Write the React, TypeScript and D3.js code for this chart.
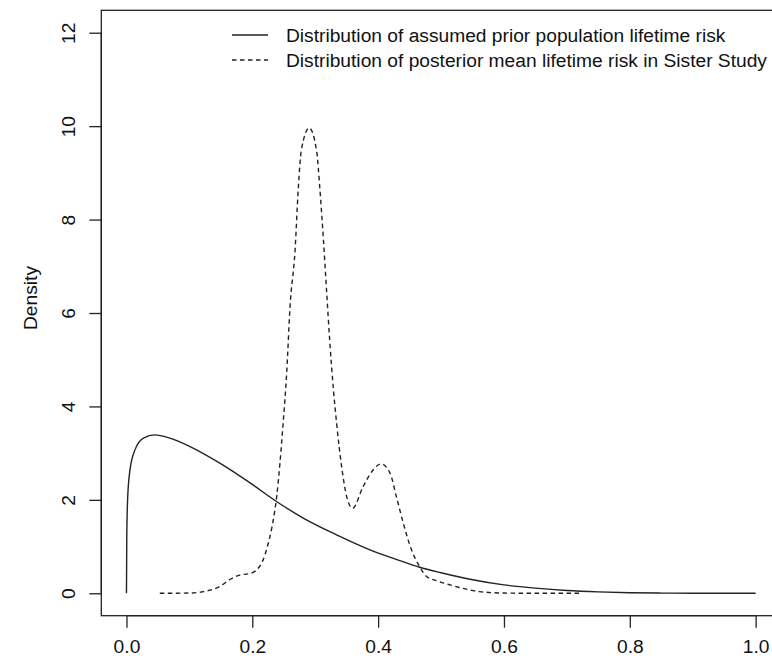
import * as d3 from 'd3';
import React, { useRef, useEffect } from 'react';

// values
const priorX = [0, 0.0005, 0.002, 0.0056, 0.0135, 0.027, 0.045, 0.069, 0.101, 0.149, 0.2, 0.239, 0.281, 0.334, 0.387, 0.43, 0.466, 0.5, 0.546, 0.6, 0.65, 0.7, 0.75, 0.8, 0.85, 0.9, 1.0];
const priorY = [0, 1.2, 2.07, 2.64, 3.07, 3.32, 3.39, 3.32, 3.14, 2.78, 2.33, 1.96, 1.61, 1.25, 0.93, 0.72, 0.557, 0.44, 0.3, 0.18, 0.11, 0.06, 0.03, 0.012, 0.004, 0.001, 0];

const postX = [0.053, 0.1, 0.12, 0.149, 0.165, 0.18, 0.195, 0.205, 0.217, 0.224, 0.231, 0.239, 0.249, 0.2546, 0.26, 0.268, 0.273, 0.278, 0.2905, 0.302, 0.3075, 0.313, 0.318, 0.323, 0.329, 0.334, 0.342, 0.35, 0.3595, 0.376, 0.392, 0.4045, 0.419, 0.429, 0.44, 0.453, 0.466, 0.477, 0.495, 0.514, 0.54, 0.561, 0.6, 0.65, 0.72];
const postY = [0, 0.005, 0.03, 0.15, 0.3, 0.39, 0.42, 0.48, 0.71, 1.0, 1.4, 2.1, 3.64, 4.71, 6.14, 7.35, 8.64, 9.49, 9.96, 9.49, 8.64, 7.57, 6.49, 5.42, 4.35, 3.64, 2.71, 2.07, 1.82, 2.28, 2.64, 2.77, 2.57, 2.07, 1.5, 0.93, 0.57, 0.36, 0.26, 0.18, 0.09, 0.035, 0.005, 0, 0];

const xTicks = [0, 0.2, 0.4, 0.6, 0.8, 1.0];
const yTicks = [0, 2, 4, 6, 8, 10, 12];

const legendLabels = [
  'Distribution of assumed prior population lifetime risk',
  'Distribution of posterior mean lifetime risk in Sister Study',
];

export default function App() {
  const svgRef = useRef<SVGSVGElement>(null);
  const width = 772;
  const height = 659;
  const plotLeft = 101.3;
  const plotRight = 780.8;
  const plotTop = 10.3;
  const plotBottom = 615.7;
  const ink = '#222';
  const font = 'Liberation Sans, Arial, sans-serif';
  const fontSize = '19.2px';

  useEffect(() => {
    if (!svgRef.current) return;
    const svg = d3.select(svgRef.current);
    svg.selectAll('*').remove();

    const x = d3.scaleLinear().domain([-0.04, 1.04]).range([plotLeft, plotRight]);
    const y = d3.scaleLinear().domain([-0.48, 12.48]).range([plotBottom, plotTop]);

    // plot box
    svg.append('rect')
      .attr('x', plotLeft)
      .attr('y', plotTop)
      .attr('width', plotRight - plotLeft)
      .attr('height', plotBottom - plotTop)
      .attr('fill', 'none')
      .attr('stroke', ink)
      .attr('stroke-width', 1.3);

    // x axis
    const gx = svg.append('g')
      .attr('transform', `translate(0,${plotBottom})`)
      .call(d3.axisBottom(x).tickValues(xTicks).tickFormat(d3.format('.1f')).tickSize(12).tickSizeOuter(0));
    gx.select('.domain').attr('d', `M${x(0)},0H${x(1)}`).attr('stroke', ink).attr('stroke-width', 1.3);
    gx.selectAll('.tick line').attr('stroke', ink).attr('stroke-width', 1.3);
    gx.selectAll('.tick text')
      .attr('y', 37.5)
      .attr('dy', null)
      .attr('fill', '#111')
      .style('font-family', font)
      .style('font-size', fontSize);

    // y axis
    const gy = svg.append('g')
      .attr('transform', `translate(${plotLeft},0)`)
      .call(d3.axisLeft(y).tickValues(yTicks).tickFormat(d3.format('d')).tickSize(12).tickSizeOuter(0));
    gy.select('.domain').attr('d', `M0,${y(0)}V${y(12)}`).attr('stroke', ink).attr('stroke-width', 1.3);
    gy.selectAll('.tick line').attr('stroke', ink).attr('stroke-width', 1.3);
    gy.selectAll('.tick text')
      .attr('x', null)
      .attr('dy', null)
      .attr('text-anchor', 'middle')
      .attr('transform', 'translate(-26,0) rotate(-90)')
      .attr('fill', '#111')
      .style('font-family', font)
      .style('font-size', fontSize);

    // y label
    svg.append('text')
      .attr('transform', `translate(37,298) rotate(-90)`)
      .attr('text-anchor', 'middle')
      .attr('fill', '#111')
      .style('font-family', font)
      .style('font-size', fontSize)
      .text('Density');

    const line = d3.line<[number, number]>()
      .x(d => x(d[0]))
      .y(d => y(d[1]))
      .curve(d3.curveMonotoneX);

    const prior = priorX.map((v, i) => [v, priorY[i]] as [number, number]);
    const post = postX.map((v, i) => [v, postY[i]] as [number, number]);

    svg.append('path')
      .attr('d', line(prior))
      .attr('fill', 'none')
      .attr('stroke', ink)
      .attr('stroke-width', 1.4);

    svg.append('path')
      .attr('d', line(post))
      .attr('fill', 'none')
      .attr('stroke', ink)
      .attr('stroke-width', 1.4)
      .attr('stroke-dasharray', '4.5,3.5');

    // legend
    const legend = svg.append('g');
    legendLabels.forEach((label, i) => {
      const ly = 35 + i * 25;
      legend.append('line')
        .attr('x1', 232).attr('x2', 268)
        .attr('y1', ly).attr('y2', ly)
        .attr('stroke', ink)
        .attr('stroke-width', 1.4)
        .attr('stroke-dasharray', i === 1 ? '4.5,3.5' : null);
      legend.append('text')
        .attr('x', 286)
        .attr('y', ly + 7)
        .attr('fill', '#111')
        .style('font-family', font)
        .style('font-size', fontSize)
        .text(label);
    });
  }, []);

  return (
    <svg
      ref={svgRef}
      width={width}
      height={height}
      style={{ position: 'absolute', left: 0, top: 0, background: '#fff' }}
    />
  );
}
